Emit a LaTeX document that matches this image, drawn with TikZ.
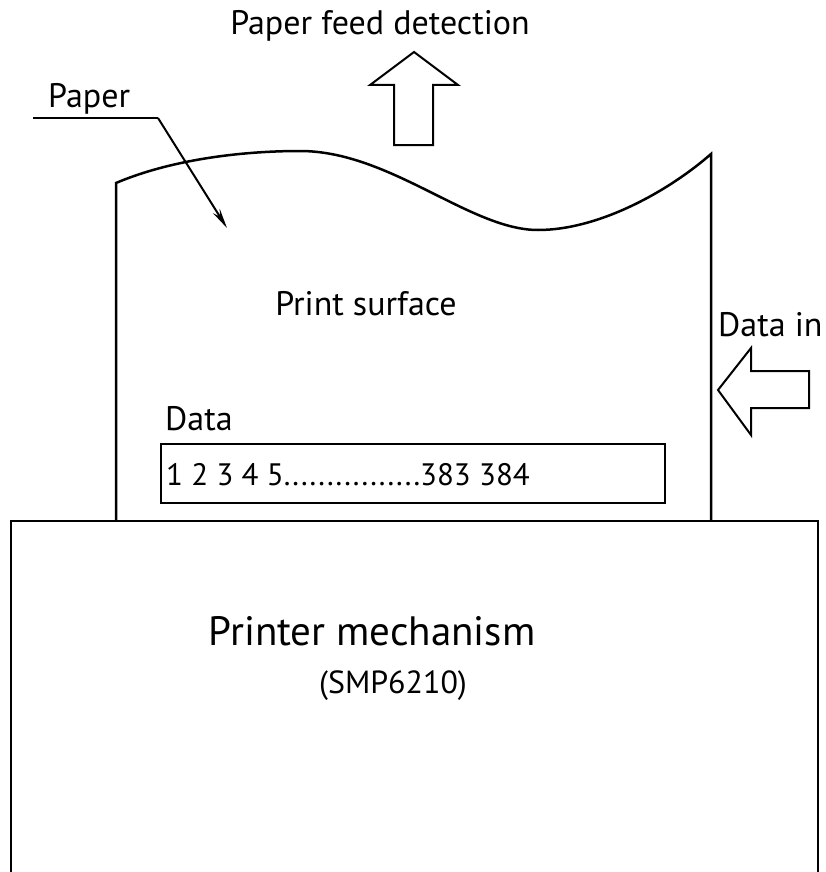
\documentclass[tikz,border=0pt]{standalone}
\usepackage{fontspec}
\setmainfont{PT Sans}
\usetikzlibrary{arrows.meta}
\tikzset{
  lbl/.style={inner sep=0pt,font=\fontsize{34}{36}\selectfont},
  outline/.style={line width=2pt,line join=miter},
}
\begin{document}
\begin{tikzpicture}[x=1pt,y=-1pt]
\useasboundingbox (0,0) rectangle (826,872);

% printer mechanism
\draw[outline] (11,873) -- (11,521) -- (818,521) -- (818,873);
\node[lbl,font=\fontsize{41}{44}\selectfont,anchor=base] (mech) at (372,645) {Printer mechanism};
\node[lbl,font=\fontsize{32}{34}\selectfont,anchor=base] (model) at (393,693) {(SMP6210)};

% paper sheet
\draw[outline,line width=2.5pt] (116,521) -- (116,183)
  .. controls (170,160) and (240,151) .. (300,151)
  .. controls (390,151) and (470,230) .. (538,230)
  .. controls (600,230) and (670,190) .. (711,154) -- (711,521);
\node[lbl,anchor=base] (surface) at (366,315) {Print surface};

% data line
\node[lbl,anchor=base west] (datalbl) at (165,430) {Data};
\node[draw,outline,minimum width=504pt,minimum height=59pt,anchor=north west] (row) at (160,443) {};
\node[lbl,font=\fontsize{31}{33}\selectfont,anchor=base west] (bits) at (166,485) {1 2 3 4 5................383 384};

% paper label
\node[lbl,anchor=base west] (paper) at (48,108) {Paper};
\coordinate (lead) at (33,118);
\coordinate (bend) at (158,118);
\coordinate (ptip) at (227,228);
\draw[outline] (lead) -- (bend);
\draw[line width=2pt,-{Stealth[length=20pt,width=8pt]}] (bend) -- (ptip);

% paper feed arrow
\draw[outline] (394,145) -- (394,85) -- (370,85) -- (414,52) -- (458,85) -- (433,85) -- (433,145) -- cycle;
\node[lbl,anchor=base] (feed) at (380,35) {Paper feed detection};

% data in arrow
\draw[outline] (809,371) -- (751,371) -- (751,348) -- (718,390) -- (751,435) -- (751,408) -- (809,408) -- cycle;
\node[lbl,anchor=base west] (datain) at (718,336) {Data in};
\end{tikzpicture}
\end{document}
